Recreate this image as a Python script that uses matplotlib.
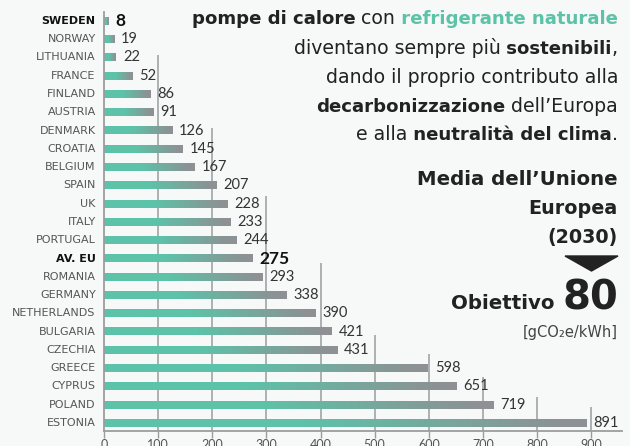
import numpy as np
import matplotlib
matplotlib.use('Agg')
import matplotlib.pyplot as plt
from matplotlib.colors import LinearSegmentedColormap
from matplotlib.patches import Polygon

# Data
COUNTRIES = ['SWEDEN', 'NORWAY', 'LITHUANIA', 'FRANCE', 'FINLAND', 'AUSTRIA',
             'DENMARK', 'CROATIA', 'BELGIUM', 'SPAIN', 'UK', 'ITALY', 'PORTUGAL',
             'AV. EU', 'ROMANIA', 'GERMANY', 'NETHERLANDS', 'BULGARIA', 'CZECHIA',
             'GREECE', 'CYPRUS', 'POLAND', 'ESTONIA']
VALUES = [8, 19, 22, 52, 86, 91, 126, 145, 167, 207, 228, 233, 244,
          275, 293, 338, 390, 421, 431, 598, 651, 719, 891]
HIGHLIGHT = ['SWEDEN', 'AV. EU']
TICKS = [0, 100, 200, 300, 400, 500, 600, 700, 800, 900]
TARGET = 80

# row where each vertical guide line starts (layout only)
GRID_TOP = {100: 1.85, 200: 5.85, 300: 9.6, 400: 13.25, 500: 17.2,
            600: 18.2, 700: 19.5, 800: 20.6, 900: 21.1}

W, H = 630, 446
FONT = ['Lato', 'DejaVu Sans']
HEAD = 'DejaVu Sans'
TEAL = '#5cc3a9'
GREY = '#8d9193'
DARK = '#222222'

fig = plt.figure(figsize=(W / 100, H / 100), dpi=100, facecolor='#f7f8f8')
ax = fig.add_axes([104 / W, 15 / H, 518 / W, 419 / H])
ax.set_facecolor('none')

cmap = LinearSegmentedColormap.from_list(
    'bar', [(0, TEAL), (0.4, TEAL), (0.95, GREY), (1, GREY)])
grad = np.linspace(0, 1, 256).reshape(1, -1)
bar_h = 0.42

for i, (name, v) in enumerate(zip(COUNTRIES, VALUES)):
    ax.imshow(grad, cmap=cmap, aspect='auto', interpolation='bilinear',
              extent=(0, v, i + bar_h / 2, i - bar_h / 2), zorder=2)
    bold = name in HIGHLIGHT
    ax.annotate(str(v), (v, i), xytext=(5, 0), textcoords='offset points',
                va='center', ha='left', family=FONT,
                fontsize=12.5 if bold else 10.5,
                fontweight='bold' if bold else 'normal',
                color='#111111' if bold else '#333333', zorder=3)
    ax.annotate(name, (0, i), xytext=(-6, 0), textcoords='offset points',
                va='center', ha='right', family='DejaVu Sans', fontsize=8,
                fontweight='bold' if bold else 'normal',
                color='#111111' if bold else '#555555')

for x, top in GRID_TOP.items():
    ax.vlines(x, top, 22.44, color='#9a9d9e', lw=1.1, zorder=1)

ax.set_xlim(0, 957)
ax.set_ylim(22.44, -0.49)
ax.set_xticks(TICKS)
ax.set_yticks([])
for s in ['top', 'right']:
    ax.spines[s].set_visible(False)
for s in ['left', 'bottom']:
    ax.spines[s].set_color('#9a9d9e')
    ax.spines[s].set_linewidth(1.3)
ax.tick_params(axis='x', length=5, width=1, color='#9a9d9e', pad=1,
               labelsize=9, labelcolor='#555555')
for lab in ax.get_xticklabels():
    lab.set_family(FONT)

renderer = fig.canvas.get_renderer()


def rich_line(x_px, y_px, parts, size):
    # right-aligned line built from (text, weight, colour) pieces
    x = x_px
    for text, weight, color in reversed(parts):
        fs = size if weight == 'normal' else size * 0.963
        t = fig.text(x / W, 1 - y_px / H, text, ha='right', va='baseline',
                     fontsize=fs, fontweight=weight, color=color, family=HEAD)
        x = t.get_window_extent(renderer).x0
    return x


R = 618
BODY = 13.6
rich_line(R, 24, [('pompe di calore', 'bold', DARK), (' con', 'normal', DARK),
                  (' refrigerante naturale', 'bold', TEAL)], BODY)
rich_line(R, 54, [('diventano sempre più', 'normal', DARK),
                  (' sostenibili', 'bold', DARK), (',', 'normal', DARK)], BODY)
rich_line(R, 83, [('dando il proprio contributo alla', 'normal', DARK)], BODY)
rich_line(R, 112, [('decarbonizzazione', 'bold', DARK),
                   (' dell’Europa', 'normal', DARK)], BODY)
rich_line(R, 140, [('e alla', 'normal', DARK),
                   (' neutralità del clima', 'bold', DARK), ('.', 'normal', DARK)], BODY)

rich_line(R, 185, [('Media dell’Unione', 'bold', DARK)], 14.8)
rich_line(R, 214, [('Europea', 'bold', DARK)], 14.3)
rich_line(R, 243, [('(2030)', 'bold', DARK)], 14.3)

tri = Polygon([(565 / W, 1 - 256 / H), (618 / W, 1 - 256 / H), (591.5 / W, 1 - 271 / H)],
              closed=True, transform=fig.transFigure, color=DARK)
fig.patches.append(tri)

x80 = rich_line(R, 309, [(str(TARGET), 'bold', DARK)], 30)
rich_line(x80 - 8, 309, [('Obiettivo', 'bold', DARK)], 14.8)
rich_line(R, 337, [('[gCO₂e/kWh]', 'normal', '#444444')], 10.5)

fig.savefig('out.png', dpi=100, facecolor=fig.get_facecolor())
